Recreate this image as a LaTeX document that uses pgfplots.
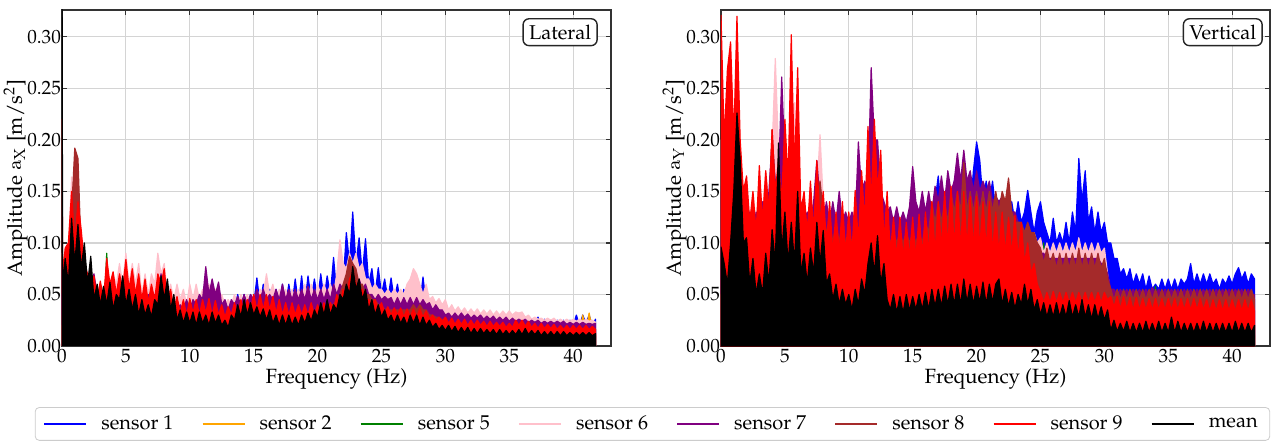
\documentclass[border=0pt]{standalone}
\usepackage[T1]{fontenc}
\usepackage{mathpazo}
\usepackage{pgfplots}
\usepackage{pgfplotstable}
\pgfplotsset{compat=1.18}
\definecolor{cS1}{RGB}{0,0,255}
\definecolor{cS2}{RGB}{255,165,0}
\definecolor{cS5}{RGB}{0,128,0}
\definecolor{cS6}{RGB}{255,192,203}
\definecolor{cS7}{RGB}{128,0,128}
\definecolor{cS8}{RGB}{165,42,42}
\definecolor{cS9}{RGB}{255,0,0}
\definecolor{cM}{RGB}{0,0,0}

% Lateral spectra: f, sensor1, sensor6, sensor7, sensor8, sensor9, mean
\pgfplotstableread{
f s1 s6 s7 s8 s9 m
0 0.05 0.09 0.08 0.08 0.220 0.400
0.05 0.03 0.05 0.05 0.05 0.070 0.060
0.25 0.06 0.07 0.09 0.06 0.095 0.085
0.5 0.04 0.09 0.06 0.08 0.100 0.060
0.75 0.08 0.164 0.10 0.13 0.150 0.124
1.0 0.06 0.10 0.08 0.192 0.100 0.080
1.25 0.09 0.12 0.10 0.182 0.140 0.118
1.5 0.05 0.10 0.07 0.09 0.113 0.075
1.75 0.06 0.08 0.08 0.07 0.080 0.100
2.0 0.04 0.07 0.05 0.06 0.070 0.060
2.25 0.05 0.06 0.06 0.05 0.050 0.087
2.5 0.03 0.07 0.07 0.06 0.068 0.045
2.75 0.04 0.05 0.05 0.04 0.045 0.060
3.0 0.03 0.06 0.04 0.05 0.063 0.040
3.25 0.04 0.05 0.05 0.04 0.045 0.058
3.5 0.03 0.07 0.04 0.06 0.085 0.040
3.75 0.04 0.06 0.06 0.05 0.060 0.062
4.0 0.03 0.07 0.04 0.06 0.072 0.035
4.25 0.04 0.06 0.05 0.05 0.050 0.050
4.5 0.03 0.08 0.04 0.06 0.070 0.045
4.75 0.05 0.06 0.06 0.05 0.055 0.068
5.0 0.03 0.090 0.04 0.07 0.084 0.040
5.25 0.04 0.06 0.05 0.05 0.055 0.055
5.5 0.03 0.08 0.04 0.06 0.075 0.035
5.75 0.04 0.06 0.05 0.04 0.050 0.050
6.0 0.03 0.08 0.04 0.06 0.070 0.030
6.25 0.04 0.05 0.05 0.04 0.045 0.045
6.5 0.03 0.07 0.04 0.05 0.065 0.030
6.75 0.04 0.05 0.05 0.04 0.042 0.040
7.0 0.03 0.07 0.04 0.05 0.060 0.028
7.25 0.04 0.06 0.05 0.04 0.045 0.045
7.5 0.03 0.090 0.05 0.06 0.070 0.040
7.75 0.05 0.07 0.070 0.05 0.060 0.068
8.0 0.03 0.08 0.05 0.06 0.075 0.045
8.25 0.04 0.05 0.05 0.04 0.045 0.065
8.5 0.03 0.06 0.04 0.04 0.055 0.035
8.75 0.03 0.045 0.045 0.035 0.035 0.050
9.0 0.025 0.06 0.035 0.04 0.048 0.025
9.25 0.03 0.045 0.04 0.03 0.032 0.035
9.5 0.025 0.055 0.035 0.035 0.045 0.022
9.75 0.03 0.04 0.045 0.03 0.030 0.033
10.0 0.025 0.06 0.035 0.035 0.046 0.022
10.25 0.03 0.045 0.045 0.03 0.032 0.033
10.5 0.025 0.06 0.04 0.035 0.045 0.020
10.75 0.03 0.045 0.05 0.03 0.030 0.033
11.0 0.025 0.055 0.045 0.035 0.045 0.022
11.25 0.03 0.045 0.077 0.03 0.032 0.030
11.5 0.025 0.06 0.05 0.035 0.046 0.020
11.75 0.03 0.045 0.065 0.03 0.030 0.033
12.0 0.025 0.055 0.05 0.035 0.044 0.022
12.25 0.03 0.04 0.062 0.03 0.030 0.030
12.5 0.025 0.05 0.04 0.03 0.040 0.020
12.75 0.03 0.04 0.045 0.03 0.028 0.025
13.0 0.03 0.045 0.035 0.03 0.038 0.018
13.25 0.04 0.04 0.045 0.03 0.030 0.030
13.5 0.035 0.05 0.04 0.035 0.042 0.025
13.75 0.05 0.04 0.048 0.03 0.030 0.040
14.0 0.035 0.05 0.04 0.035 0.045 0.028
14.25 0.05 0.04 0.05 0.03 0.032 0.045
14.5 0.035 0.05 0.04 0.04 0.045 0.030
14.75 0.05 0.04 0.05 0.035 0.035 0.042
15.0 0.04 0.05 0.045 0.04 0.050 0.030
15.25 0.066 0.045 0.055 0.035 0.035 0.038
15.5 0.04 0.055 0.045 0.04 0.050 0.028
15.75 0.06 0.05 0.055 0.035 0.035 0.036
16.0 0.04 0.070 0.045 0.04 0.050 0.025
16.25 0.055 0.05 0.05 0.035 0.035 0.035
16.5 0.04 0.06 0.045 0.04 0.048 0.022
16.75 0.055 0.045 0.055 0.035 0.032 0.030
17.0 0.04 0.055 0.045 0.035 0.045 0.020
17.25 0.06 0.045 0.06 0.03 0.030 0.030
17.5 0.04 0.055 0.045 0.035 0.042 0.020
17.75 0.06 0.045 0.055 0.03 0.030 0.030
18.0 0.04 0.055 0.045 0.035 0.042 0.020
18.25 0.065 0.045 0.055 0.03 0.030 0.028
18.5 0.04 0.055 0.045 0.035 0.040 0.020
18.75 0.068 0.045 0.055 0.03 0.030 0.030
19.0 0.04 0.06 0.045 0.035 0.040 0.022
19.25 0.068 0.045 0.058 0.03 0.030 0.032
19.5 0.045 0.06 0.045 0.035 0.042 0.024
19.75 0.065 0.045 0.055 0.03 0.030 0.035
20.0 0.045 0.06 0.045 0.035 0.040 0.028
20.25 0.07 0.05 0.055 0.03 0.030 0.042
20.5 0.045 0.06 0.045 0.035 0.042 0.030
20.75 0.068 0.05 0.055 0.035 0.032 0.045
21.0 0.05 0.06 0.045 0.04 0.042 0.030
21.25 0.086 0.05 0.06 0.04 0.035 0.040
21.5 0.05 0.07 0.05 0.045 0.050 0.035
21.75 0.09 0.103 0.06 0.05 0.040 0.050
22.0 0.06 0.08 0.055 0.06 0.055 0.045
22.25 0.11 0.075 0.065 0.07 0.050 0.060
22.5 0.08 0.09 0.06 0.087 0.065 0.050
22.75 0.13 0.08 0.075 0.08 0.072 0.077
23.0 0.08 0.09 0.06 0.075 0.060 0.055
23.25 0.105 0.075 0.065 0.06 0.055 0.065
23.5 0.07 0.08 0.055 0.06 0.055 0.045
23.75 0.104 0.065 0.06 0.05 0.045 0.055
24.0 0.06 0.065 0.05 0.05 0.045 0.035
24.25 0.075 0.055 0.05 0.045 0.040 0.045
24.5 0.05 0.06 0.045 0.045 0.045 0.030
24.75 0.076 0.055 0.05 0.04 0.035 0.040
25.0 0.05 0.055 0.045 0.04 0.042 0.028
25.25 0.065 0.05 0.048 0.035 0.032 0.035
25.5 0.045 0.055 0.045 0.035 0.038 0.025
25.75 0.066 0.05 0.047 0.035 0.030 0.030
26.0 0.045 0.055 0.04 0.035 0.037 0.022
26.25 0.06 0.05 0.047 0.035 0.030 0.030
26.5 0.04 0.055 0.04 0.035 0.037 0.022
26.75 0.055 0.05 0.047 0.035 0.028 0.028
27.0 0.04 0.06 0.04 0.035 0.036 0.020
27.25 0.055 0.065 0.047 0.035 0.028 0.030
27.5 0.04 0.075 0.04 0.04 0.036 0.022
27.75 0.055 0.07 0.047 0.035 0.028 0.030
28.0 0.04 0.06 0.04 0.04 0.036 0.020
28.25 0.067 0.05 0.045 0.035 0.028 0.028
28.5 0.04 0.06 0.04 0.035 0.034 0.020
28.75 0.04 0.045 0.042 0.03 0.026 0.025
29.0 0.03 0.048 0.035 0.03 0.030 0.018
29.25 0.035 0.042 0.04 0.028 0.025 0.022
29.5 0.03 0.046 0.035 0.028 0.028 0.016
29.75 0.032 0.04 0.035 0.025 0.024 0.020
30.0 0.028 0.045 0.03 0.025 0.028 0.015
30.25 0.03 0.035 0.032 0.022 0.022 0.020
30.5 0.022 0.04 0.028 0.022 0.027 0.014
30.75 0.03 0.034 0.032 0.02 0.021 0.019
31.0 0.022 0.038 0.028 0.022 0.026 0.013
31.25 0.03 0.033 0.032 0.02 0.021 0.018
31.5 0.022 0.037 0.028 0.021 0.026 0.013
31.75 0.029 0.032 0.031 0.02 0.020 0.018
32.0 0.022 0.036 0.027 0.021 0.025 0.012
32.25 0.029 0.032 0.03 0.02 0.020 0.017
32.5 0.021 0.036 0.027 0.02 0.025 0.012
32.75 0.028 0.031 0.03 0.019 0.020 0.017
33.0 0.021 0.035 0.026 0.02 0.024 0.012
33.25 0.028 0.031 0.029 0.019 0.019 0.016
33.5 0.021 0.035 0.026 0.02 0.024 0.012
33.75 0.028 0.03 0.029 0.019 0.019 0.016
34.0 0.02 0.034 0.025 0.019 0.023 0.011
34.25 0.028 0.03 0.028 0.018 0.019 0.016
34.5 0.02 0.034 0.025 0.019 0.023 0.011
34.75 0.027 0.03 0.028 0.018 0.018 0.015
35.0 0.02 0.034 0.024 0.019 0.022 0.011
35.25 0.027 0.03 0.027 0.018 0.018 0.015
35.5 0.02 0.033 0.024 0.019 0.025 0.011
35.75 0.027 0.032 0.026 0.018 0.020 0.016
36.0 0.02 0.033 0.024 0.019 0.025 0.011
36.25 0.028 0.028 0.026 0.018 0.019 0.017
36.5 0.02 0.03 0.023 0.018 0.024 0.011
36.75 0.026 0.026 0.025 0.017 0.018 0.015
37.0 0.02 0.028 0.023 0.018 0.022 0.011
37.25 0.028 0.026 0.025 0.017 0.017 0.015
37.5 0.019 0.027 0.022 0.018 0.022 0.010
37.75 0.026 0.025 0.024 0.017 0.017 0.014
38.0 0.019 0.027 0.022 0.017 0.021 0.010
38.25 0.025 0.025 0.024 0.016 0.017 0.014
38.5 0.019 0.027 0.022 0.017 0.021 0.010
38.75 0.025 0.024 0.024 0.016 0.016 0.014
39.0 0.019 0.026 0.022 0.017 0.020 0.010
39.25 0.025 0.024 0.024 0.016 0.016 0.014
39.5 0.019 0.026 0.021 0.017 0.020 0.010
39.75 0.025 0.024 0.023 0.016 0.016 0.013
40.0 0.02 0.026 0.021 0.017 0.020 0.010
40.25 0.03 0.024 0.023 0.016 0.016 0.013
40.5 0.02 0.026 0.021 0.017 0.020 0.010
40.75 0.03 0.024 0.023 0.016 0.016 0.013
41.0 0.022 0.026 0.021 0.017 0.020 0.010
41.25 0.03 0.024 0.022 0.016 0.016 0.013
41.5 0.02 0.025 0.021 0.016 0.019 0.010
41.75 0.026 0.023 0.022 0.016 0.016 0.012
}\tabL

% Vertical spectra: f, sensor1, sensor6, sensor7, sensor8, sensor9, mean
\pgfplotstableread{
f s1 s6 s7 s8 s9 m
0.0 0.10 0.20 0.15 0.15 0.321 0.096
0.25 0.12 0.15 0.18 0.12 0.200 0.080
0.5 0.10 0.22 0.15 0.18 0.268 0.060
0.75 0.12 0.16 0.18 0.14 0.295 0.100
1.0 0.10 0.20 0.15 0.17 0.200 0.150
1.25 0.13 0.16 0.18 0.14 0.320 0.226
1.5 0.10 0.18 0.14 0.15 0.200 0.180
1.75 0.11 0.13 0.15 0.12 0.150 0.100
2.0 0.09 0.16 0.12 0.14 0.165 0.105
2.25 0.10 0.12 0.13 0.11 0.120 0.060
2.5 0.09 0.15 0.11 0.13 0.150 0.085
2.75 0.10 0.12 0.13 0.11 0.110 0.050
3.0 0.09 0.16 0.12 0.14 0.175 0.070
3.25 0.10 0.13 0.14 0.12 0.120 0.050
3.5 0.09 0.17 0.12 0.15 0.170 0.090
3.75 0.11 0.14 0.15 0.13 0.130 0.060
4.0 0.10 0.19 0.20 0.21 0.210 0.113
4.25 0.11 0.279 0.16 0.15 0.150 0.080
4.5 0.10 0.19 0.16 0.15 0.180 0.197
4.75 0.12 0.17 0.261 0.14 0.140 0.090
5.0 0.10 0.20 0.18 0.16 0.220 0.130
5.25 0.11 0.17 0.17 0.14 0.160 0.080
5.5 0.10 0.20 0.15 0.15 0.302 0.120
5.75 0.12 0.236 0.17 0.16 0.170 0.080
6.0 0.10 0.16 0.15 0.16 0.270 0.150
6.25 0.11 0.13 0.14 0.12 0.130 0.070
6.5 0.10 0.14 0.12 0.13 0.150 0.090
6.75 0.11 0.12 0.13 0.11 0.110 0.060
7.0 0.10 0.14 0.12 0.13 0.160 0.095
7.25 0.11 0.12 0.14 0.11 0.110 0.070
7.5 0.10 0.15 0.18 0.14 0.180 0.120
7.75 0.11 0.205 0.14 0.16 0.120 0.080
8.0 0.10 0.14 0.12 0.13 0.150 0.112
8.25 0.11 0.11 0.14 0.11 0.100 0.060
8.5 0.10 0.13 0.12 0.12 0.140 0.070
8.75 0.11 0.11 0.14 0.10 0.090 0.045
9.0 0.10 0.13 0.12 0.12 0.130 0.060
9.25 0.11 0.11 0.150 0.10 0.090 0.040
9.5 0.10 0.13 0.12 0.12 0.140 0.055
9.75 0.11 0.11 0.13 0.10 0.090 0.040
10.0 0.10 0.12 0.12 0.11 0.130 0.050
10.25 0.11 0.10 0.13 0.10 0.090 0.035
10.5 0.10 0.13 0.12 0.12 0.151 0.055
10.75 0.11 0.11 0.198 0.10 0.100 0.040
11.0 0.10 0.12 0.15 0.12 0.170 0.065
11.25 0.11 0.11 0.16 0.10 0.120 0.050
11.5 0.10 0.13 0.15 0.13 0.213 0.080
11.75 0.11 0.12 0.270 0.12 0.140 0.100
12.0 0.10 0.14 0.20 0.14 0.220 0.070
12.25 0.11 0.12 0.20 0.12 0.150 0.107
12.5 0.10 0.13 0.15 0.12 0.190 0.060
12.75 0.11 0.11 0.14 0.11 0.100 0.080
13.0 0.10 0.12 0.13 0.11 0.150 0.045
13.25 0.11 0.10 0.135 0.10 0.090 0.035
13.5 0.10 0.11 0.12 0.11 0.125 0.050
13.75 0.11 0.10 0.135 0.10 0.085 0.032
14.0 0.10 0.11 0.12 0.11 0.125 0.048
14.25 0.11 0.10 0.13 0.10 0.085 0.032
14.5 0.10 0.11 0.12 0.11 0.120 0.050
14.75 0.12 0.10 0.135 0.10 0.085 0.034
15.0 0.10 0.11 0.174 0.11 0.125 0.048
15.25 0.12 0.10 0.14 0.10 0.085 0.035
15.5 0.10 0.11 0.13 0.11 0.128 0.050
15.75 0.12 0.10 0.15 0.10 0.088 0.035
16.0 0.11 0.11 0.13 0.12 0.130 0.052
16.25 0.13 0.10 0.15 0.11 0.090 0.035
16.5 0.11 0.12 0.13 0.14 0.140 0.055
16.75 0.14 0.11 0.155 0.12 0.090 0.038
17.0 0.165 0.12 0.14 0.14 0.140 0.055
17.25 0.13 0.11 0.165 0.12 0.095 0.038
17.5 0.12 0.12 0.14 0.14 0.150 0.058
17.75 0.14 0.11 0.170 0.12 0.095 0.040
18.0 0.12 0.12 0.15 0.15 0.155 0.060
18.25 0.16 0.11 0.16 0.13 0.095 0.040
18.5 0.12 0.12 0.187 0.15 0.150 0.060
18.75 0.15 0.11 0.16 0.13 0.095 0.040
19.0 0.13 0.12 0.190 0.178 0.150 0.065
19.25 0.16 0.11 0.16 0.13 0.095 0.042
19.5 0.13 0.12 0.17 0.15 0.145 0.060
19.75 0.17 0.11 0.15 0.13 0.095 0.040
20.0 0.198 0.12 0.17 0.15 0.145 0.058
20.25 0.18 0.11 0.15 0.13 0.095 0.042
20.5 0.14 0.12 0.16 0.15 0.140 0.062
20.75 0.16 0.11 0.15 0.13 0.095 0.040
21.0 0.14 0.12 0.16 0.15 0.140 0.060
21.25 0.16 0.11 0.14 0.13 0.092 0.042
21.5 0.13 0.12 0.145 0.15 0.130 0.060
21.75 0.14 0.11 0.14 0.13 0.090 0.065
22.0 0.13 0.12 0.145 0.15 0.130 0.040
22.25 0.14 0.11 0.13 0.14 0.090 0.055
22.5 0.12 0.12 0.13 0.163 0.125 0.038
22.75 0.14 0.11 0.13 0.13 0.088 0.052
23.0 0.12 0.12 0.13 0.12 0.127 0.036
23.25 0.14 0.11 0.12 0.12 0.085 0.050
23.5 0.12 0.11 0.11 0.12 0.120 0.040
23.75 0.13 0.10 0.11 0.11 0.080 0.060
24.0 0.151 0.11 0.11 0.12 0.100 0.040
24.25 0.13 0.10 0.10 0.11 0.070 0.055
24.5 0.11 0.11 0.09 0.11 0.080 0.035
24.75 0.13 0.10 0.09 0.10 0.060 0.045
25.0 0.14 0.105 0.09 0.095 0.052 0.030
25.25 0.12 0.09 0.09 0.08 0.042 0.042
25.5 0.11 0.10 0.085 0.095 0.052 0.028
25.75 0.10 0.09 0.085 0.08 0.042 0.040
26.0 0.124 0.10 0.085 0.09 0.053 0.028
26.25 0.10 0.09 0.085 0.075 0.042 0.042
26.5 0.11 0.10 0.085 0.09 0.052 0.028
26.75 0.10 0.09 0.085 0.075 0.042 0.040
27.0 0.12 0.10 0.085 0.09 0.052 0.028
27.25 0.10 0.09 0.085 0.075 0.042 0.044
27.5 0.13 0.10 0.085 0.09 0.052 0.028
27.75 0.11 0.09 0.085 0.075 0.042 0.040
28.0 0.182 0.105 0.085 0.095 0.052 0.028
28.25 0.14 0.09 0.085 0.075 0.042 0.045
28.5 0.170 0.10 0.085 0.09 0.052 0.028
28.75 0.12 0.09 0.085 0.075 0.042 0.040
29.0 0.135 0.10 0.085 0.09 0.052 0.026
29.25 0.11 0.09 0.085 0.075 0.042 0.040
29.5 0.13 0.10 0.085 0.09 0.052 0.026
29.75 0.11 0.09 0.08 0.075 0.042 0.038
30.0 0.12 0.095 0.08 0.085 0.052 0.025
30.25 0.10 0.07 0.07 0.065 0.045 0.035
30.5 0.10 0.05 0.055 0.055 0.048 0.015
30.75 0.085 0.045 0.055 0.045 0.038 0.025
31.0 0.085 0.045 0.05 0.055 0.048 0.014
31.25 0.07 0.04 0.055 0.045 0.036 0.022
31.5 0.075 0.045 0.05 0.055 0.048 0.014
31.75 0.065 0.04 0.055 0.045 0.036 0.024
32.0 0.075 0.045 0.05 0.055 0.047 0.013
32.25 0.06 0.04 0.055 0.045 0.035 0.022
32.5 0.07 0.045 0.05 0.055 0.047 0.013
32.75 0.06 0.04 0.055 0.045 0.035 0.022
33.0 0.07 0.045 0.05 0.055 0.046 0.013
33.25 0.055 0.04 0.055 0.045 0.035 0.024
33.5 0.068 0.045 0.05 0.055 0.046 0.013
33.75 0.055 0.04 0.057 0.045 0.035 0.022
34.0 0.06 0.045 0.05 0.055 0.046 0.013
34.25 0.055 0.04 0.055 0.045 0.035 0.024
34.5 0.065 0.045 0.05 0.055 0.046 0.013
34.75 0.055 0.04 0.055 0.045 0.035 0.022
35.0 0.065 0.045 0.05 0.055 0.046 0.013
35.25 0.055 0.04 0.055 0.045 0.035 0.028
35.5 0.065 0.045 0.05 0.055 0.046 0.013
35.75 0.055 0.04 0.055 0.045 0.035 0.024
36.0 0.065 0.045 0.05 0.055 0.046 0.013
36.25 0.06 0.04 0.055 0.045 0.035 0.022
36.5 0.065 0.045 0.05 0.055 0.046 0.013
36.75 0.08 0.04 0.055 0.045 0.035 0.022
37.0 0.06 0.045 0.05 0.055 0.046 0.013
37.25 0.07 0.04 0.055 0.045 0.035 0.022
37.5 0.06 0.045 0.05 0.055 0.046 0.013
37.75 0.07 0.04 0.055 0.045 0.035 0.024
38.0 0.06 0.045 0.05 0.055 0.045 0.013
38.25 0.07 0.04 0.055 0.045 0.034 0.022
38.5 0.06 0.045 0.05 0.055 0.045 0.013
38.75 0.065 0.04 0.055 0.045 0.034 0.022
39.0 0.055 0.045 0.05 0.055 0.045 0.013
39.25 0.065 0.04 0.055 0.045 0.034 0.022
39.5 0.06 0.045 0.05 0.055 0.045 0.013
39.75 0.068 0.04 0.055 0.045 0.034 0.022
40.0 0.06 0.045 0.05 0.055 0.045 0.013
40.25 0.07 0.04 0.055 0.045 0.034 0.024
40.5 0.076 0.045 0.05 0.055 0.045 0.013
40.75 0.065 0.04 0.055 0.045 0.034 0.022
41.0 0.072 0.045 0.05 0.055 0.045 0.013
41.25 0.06 0.04 0.055 0.045 0.034 0.022
41.5 0.07 0.045 0.05 0.055 0.045 0.013
41.75 0.065 0.04 0.05 0.045 0.034 0.020
}\tabR

\pgfplotsset{
  spec/.style={draw=#1, fill=#1, line width=0.6pt, line join=round, forget plot},
  panel/.style={
    scale only axis, width=274.5pt, height=168pt,
    xmin=0, xmax=42.96, ymin=0, ymax=0.326,
    xtick={0,5,10,15,20,25,30,35,40},
    ytick={0,0.05,0.1,0.15,0.2,0.25,0.3},
    yticklabel style={/pgf/number format/fixed, /pgf/number format/fixed zerofill, /pgf/number format/precision=2, xshift=3pt},
    xticklabel style={yshift=2pt},
    grid=major, grid style={color=black!17, line width=0.6pt},
    axis line style={black!80, line width=0.7pt},
    tick align=inside, major tick length=2.5pt,
    tick style={black!80, line width=0.6pt},
    tick label style={font=\fontsize{9.6}{11}\selectfont},
    label style={font=\fontsize{10.3}{12}\selectfont},
    xlabel={Frequency (Hz)},
    xlabel style={yshift=4pt},
    ylabel style={yshift=-7pt},
  }
}

\begin{document}
\begin{tikzpicture}
\path[use as bounding box] (-31pt,-49pt) rectangle (606pt,173pt);
\begin{axis}[panel, at={(0pt,0pt)}, anchor=south west,
  ylabel={Amplitude {\sffamily\slshape a}\textsubscript{\sffamily\slshape X} [m/s\textsuperscript{2}]}]
\addplot[spec=cS1] table[x=f,y=s1]{\tabL} \closedcycle;
\addplot[spec=cS2] coordinates {(0,0.02)(5,0.012)(10,0.01)(20,0.01)(22.5,0.012)(30,0.008)(40.5,0.012)(40.75,0.03)(41,0.014)(41.25,0.032)(41.5,0.015)(41.75,0.012)} \closedcycle;
\addplot[spec=cS5] coordinates {(0,0.03)(3.25,0.02)(3.5,0.09)(3.75,0.02)(10,0.012)(23.25,0.02)(23.5,0.066)(23.75,0.02)(30,0.008)(41,0.012)(41.75,0.01)} \closedcycle;
\addplot[spec=cS6] table[x=f,y=s6]{\tabL} \closedcycle;
\addplot[spec=cS7] table[x=f,y=s7]{\tabL} \closedcycle;
\addplot[spec=cS8] table[x=f,y=s8]{\tabL} \closedcycle;
\addplot[spec=cS9] table[x=f,y=s9]{\tabL} \closedcycle;
\addplot[spec=cM] table[x=f,y=m]{\tabL} \closedcycle;
\node[draw=black!85, fill=white, rounded corners=3pt, line width=0.7pt, inner sep=3pt, anchor=north east, font=\fontsize{10}{12}\selectfont] at (rel axis cs:0.976,0.976) {Lateral};
\end{axis}
\begin{axis}[panel, at={(329.5pt,0pt)}, anchor=south west,
  ylabel={Amplitude {\sffamily\slshape a}\textsubscript{\sffamily\slshape Y} [m/s\textsuperscript{2}]},
  legend columns=8,
  legend style={at={(-0.1248,-0.232)}, anchor=center, draw=black!20, rounded corners=2pt, fill=white, font=\fontsize{10}{12}\selectfont, /tikz/every even column/.append style={column sep=12pt}, /tikz/every odd column/.append style={column sep=5pt}, inner xsep=4pt, inner ysep=2pt},
  legend cell align=left,
  legend image code/.code={\draw[#1, line width=1.1pt] (0pt,0pt) -- (21pt,0pt);}]
\addplot[spec=cS1] table[x=f,y=s1]{\tabR} \closedcycle;
\addplot[spec=cS2] coordinates {(0,0.05)(4.75,0.05)(5,0.19)(5.25,0.05)(20,0.02)(41.75,0.01)} \closedcycle;
\addplot[spec=cS5] coordinates {(0,0.05)(25,0.05)(25.25,0.1)(25.5,0.05)(33.75,0.03)(34,0.058)(34.25,0.03)(38,0.03)(38.25,0.055)(38.5,0.03)(41.75,0.02)} \closedcycle;
\addplot[spec=cS6] table[x=f,y=s6]{\tabR} \closedcycle;
\addplot[spec=cS7] table[x=f,y=s7]{\tabR} \closedcycle;
\addplot[spec=cS8] table[x=f,y=s8]{\tabR} \closedcycle;
\addplot[spec=cS9] table[x=f,y=s9]{\tabR} \closedcycle;
\addplot[spec=cM] table[x=f,y=m]{\tabR} \closedcycle;
\addlegendimage{cS1}\addlegendentry{sensor 1}
\addlegendimage{cS2}\addlegendentry{sensor 2}
\addlegendimage{cS5}\addlegendentry{sensor 5}
\addlegendimage{cS6}\addlegendentry{sensor 6}
\addlegendimage{cS7}\addlegendentry{sensor 7}
\addlegendimage{cS8}\addlegendentry{sensor 8}
\addlegendimage{cS9}\addlegendentry{sensor 9}
\addlegendimage{cM}\addlegendentry{mean}
\node[draw=black!85, fill=white, rounded corners=3pt, line width=0.7pt, inner sep=3pt, anchor=north east, font=\fontsize{10}{12}\selectfont] at (rel axis cs:0.987,0.976) {Vertical};
\end{axis}
\end{tikzpicture}
\end{document}
